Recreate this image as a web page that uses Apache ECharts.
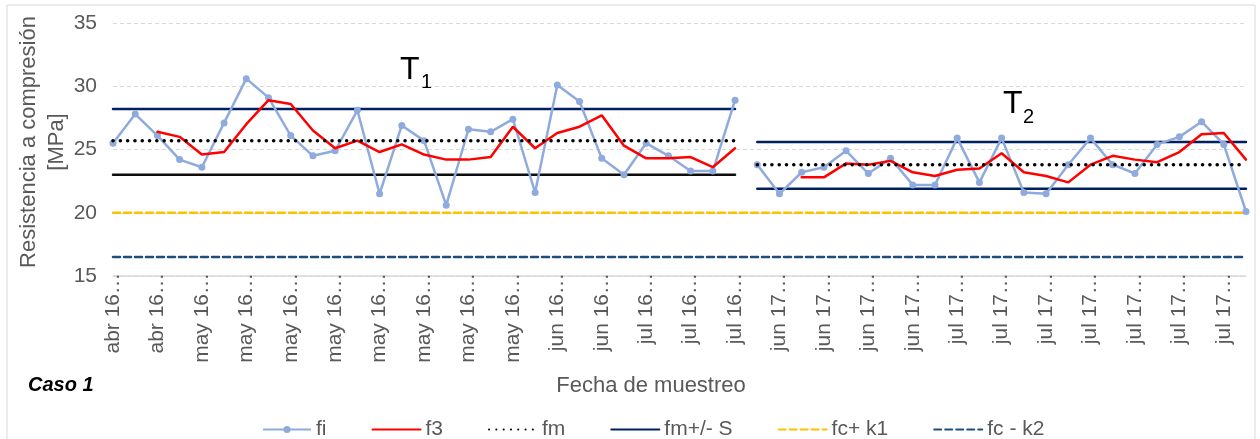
<!DOCTYPE html>
<html>
<head>
<meta charset="utf-8">
<script src="https://cdn.jsdelivr.net/npm/echarts@6/dist/echarts.min.js"></script>
<style>
html, body { margin: 0; padding: 0; background: #fff; }
#main { width: 1260px; height: 439px; }
</style>
</head>
<body>
<div id="main"></div>
<script>
// categorias (fechas de muestreo), T1 = 2016, T2 = 2017
var categories = [
    'abr 16…','abr 16…','abr 16…','abr 16…','may 16…','may 16…','may 16…','may 16…',
    'may 16…','may 16…','may 16…','may 16…','may 16…','may 16…','may 16…','may 16…',
    'may 16…','may 16…','may 16…','may 16…','jun 16…','jun 16…','jun 16…','jun 16…',
    'jul 16…','jul 16…','jul 16…','jul 16…','jul 16…',
    'jun 17…','jun 17…','jun 17…','jun 17…','jun 17…','jun 17…','jun 17…','jun 17…',
    'jun 17…','jul 17…','jul 17…','jul 17…','jul 17…','jul 17…','jul 17…','jul 17…',
    'jul 17…','jul 17…','jul 17…','jul 17…','jul 17…','jul 17…','jul 17…'
];
var fiT1 = [25.5, 27.8, 26.1, 24.2, 23.6, 27.1, 30.6, 29.1, 26.1, 24.5, 24.9, 28.1, 21.5, 26.9, 25.7,
            20.6, 26.6, 26.4, 27.4, 21.6, 30.1, 28.8, 24.3, 23.0, 25.5, 24.5, 23.3, 23.3, 28.9];
var fiT2 = [23.8, 21.5, 23.2, 23.6, 24.9, 23.1, 24.3, 22.2, 22.2, 25.9, 22.4, 25.9, 21.6, 21.5, 23.8,
            25.9, 23.8, 23.1, 25.4, 26.0, 27.2, 25.4, 20.1];
var f3T1 = ['-', '-', 26.4, 26.0, 24.6, 24.8, 27.0, 28.9, 28.6, 26.5, 25.1, 25.7, 24.8, 25.4, 24.6,
            24.2, 24.2, 24.4, 26.8, 25.1, 26.3, 26.8, 27.7, 25.3, 24.3, 24.3, 24.4, 23.6, 25.1];
var f3T2 = ['-', '-', 22.8, 22.8, 23.9, 23.8, 24.1, 23.2, 22.9, 23.4, 23.5, 24.7, 23.2, 22.9, 22.4,
            23.8, 24.5, 24.2, 24.0, 24.8, 26.2, 26.3, 24.2];
// niveles por tramo
var fmT1 = 25.7, supT1 = 28.2, infT1 = 23.0;
var fmT2 = 23.8, supT2 = 25.6, infT2 = 21.9;
var fcK1 = 20.0, fcK2 = 16.5;
var yTicks = [15, 20, 25, 30, 35];

var n1 = fiT1.length, n2 = fiT2.length, N = n1 + n2;
var FONT = "'Liberation Sans', Arial, sans-serif";
var GRAY = '#595959';

function tramo(vals, start) {
    var out = [];
    for (var i = 0; i < N; i++) {
        var j = i - start;
        out.push(j >= 0 && j < vals.length ? vals[j] : '-');
    }
    return out;
}
function nivel(v, start, len) {
    var vals = [];
    for (var i = 0; i < len; i++) vals.push(v);
    return tramo(vals, start);
}
function linea(name, data, color, width, type, z) {
    return {
        name: name, type: 'line', data: data, symbol: 'none', silent: true, z: z || 2,
        lineStyle: { color: color, width: width, type: type || 'solid', cap: 'round' },
        itemStyle: { color: color }
    };
}
// leyenda: solo la serie fi lleva marcador
function itemLeyenda(name) {
    return name === 'fi' ? { name: name } : { name: name, itemStyle: { opacity: 0 } };
}

var myChart = echarts.init(document.getElementById('main'));
var option = {
    animation: false,
    textStyle: { fontFamily: FONT },
    grid: { left: 113, right: 14, top: 23, bottom: 163, containLabel: false },
    legend: {
        data: ['fi', 'f3', 'fm', 'fm+/- S', 'fc+ k1', 'fc - k2'].map(itemLeyenda),
        left: 257, top: 414,
        itemWidth: 48, itemHeight: 9, itemGap: 45,
        textStyle: { color: GRAY, fontSize: 21, fontFamily: FONT }
    },
    xAxis: {
        type: 'category',
        data: categories,
        boundaryGap: false,
        axisLine: { lineStyle: { color: '#d9d9d9', width: 1.5 } },
        axisTick: { show: false },
        axisLabel: { interval: 1, rotate: 90, margin: -3, color: GRAY, fontSize: 21, fontFamily: FONT }
    },
    yAxis: {
        type: 'value',
        min: yTicks[0], max: yTicks[yTicks.length - 1], interval: 5,
        axisLine: { show: false },
        axisTick: { show: false },
        axisLabel: { margin: 16, color: GRAY, fontSize: 21, fontFamily: FONT },
        splitLine: { lineStyle: { color: '#d9d9d9', width: 1, type: [4, 3] } }
    },
    graphic: [
        { type: 'rect', silent: true, shape: { x: 7, y: 5, width: 1248, height: 450 },
          style: { fill: 'none', stroke: '#d9d9d9', lineWidth: 1 } },
        { type: 'text', x: 29, y: 142, rotation: Math.PI / 2,
          style: { text: 'Resistencia a compresión', font: '22px ' + FONT, fill: GRAY, align: 'center', verticalAlign: 'middle' } },
        { type: 'text', x: 57, y: 142, rotation: Math.PI / 2,
          style: { text: '[MPa]', font: '22px ' + FONT, fill: GRAY, align: 'center', verticalAlign: 'middle' } },
        { type: 'text', x: 651, y: 386,
          style: { text: 'Fecha de muestreo', font: '22px ' + FONT, fill: GRAY, align: 'center', verticalAlign: 'middle' } },
        { type: 'text', x: 28, y: 385,
          style: { text: 'Caso 1', font: 'italic bold 20px ' + FONT, fill: '#000', align: 'left', verticalAlign: 'middle' } },
        { type: 'text', x: 400, y: 70,
          style: { text: 'T', font: '32px ' + FONT, fill: '#000', align: 'left', verticalAlign: 'middle' } },
        { type: 'text', x: 421, y: 82,
          style: { text: '1', font: '20px ' + FONT, fill: '#000', align: 'left', verticalAlign: 'middle' } },
        { type: 'text', x: 1003, y: 104,
          style: { text: 'T', font: '32px ' + FONT, fill: '#000', align: 'left', verticalAlign: 'middle' } },
        { type: 'text', x: 1023, y: 117,
          style: { text: '2', font: '20px ' + FONT, fill: '#000', align: 'left', verticalAlign: 'middle' } }
    ],
    series: [
        linea('fc+ k1', nivel(fcK1, 0, N), '#ffc000', 2.5, [7, 4]),
        linea('fc - k2', nivel(fcK2, 0, N), '#1f4e79', 2.5, [7, 4]),
        linea('fm+/- S', nivel(supT1, 0, n1), '#002060', 2.5),
        linea('fm - S', nivel(infT1, 0, n1), '#0d0d0d', 2.5),
        linea('fm+/- S', nivel(supT2, n1, n2), '#002060', 2.5),
        linea('fm+/- S', nivel(infT2, n1, n2), '#002060', 2.5),
        {
            name: 'fi', type: 'line', data: tramo(fiT1, 0), z: 3,
            symbol: 'circle', symbolSize: 7, showSymbol: true,
            lineStyle: { color: '#8faadc', width: 2.5 }, itemStyle: { color: '#8faadc' }
        },
        {
            name: 'fi', type: 'line', data: tramo(fiT2, n1), z: 3,
            symbol: 'circle', symbolSize: 7, showSymbol: true,
            lineStyle: { color: '#8faadc', width: 2.5 }, itemStyle: { color: '#8faadc' }
        },
        linea('f3', tramo(f3T1, 0), '#ff0000', 2.5, 'solid', 4),
        linea('f3', tramo(f3T2, n1), '#ff0000', 2.5, 'solid', 4),
        linea('fm', nivel(fmT1, 0, n1), '#000000', 3.5, [0.1, 7.2], 5),
        linea('fm', nivel(fmT2, n1, n2), '#000000', 3.5, [0.1, 7.2], 5)
    ]
};
myChart.setOption(option);
</script>
</body>
</html>
